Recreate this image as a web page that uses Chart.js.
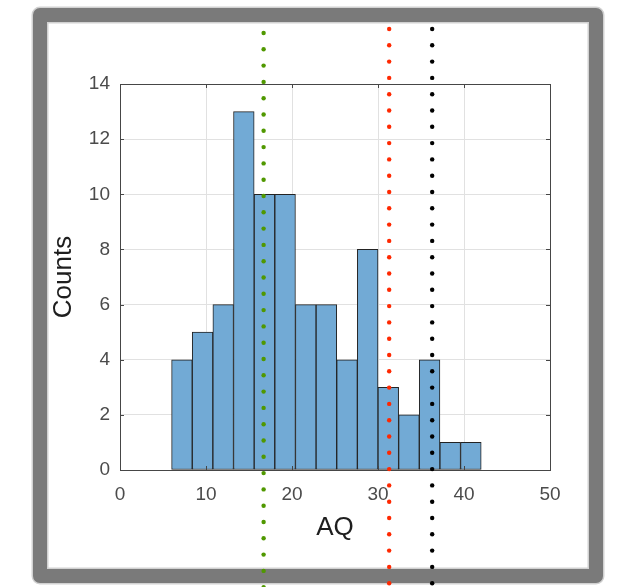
<!DOCTYPE html>
<html>
<head>
<meta charset="utf-8">
<script src="https://cdn.jsdelivr.net/npm/chart.js@4"></script>
<style>
  html, body { margin: 0; padding: 0; background: #fff; }
  #wrap { width: 620px; height: 587px; }
</style>
</head>
<body>
<div id="wrap"><canvas id="aq-chart" width="620" height="587"></canvas></div>
<script>
// Histogram of AQ, bin width 2.4 starting at 6
const binCenters = [7.2, 9.6, 12.0, 14.4, 16.8, 19.2, 21.6, 24.0, 26.4, 28.8, 31.2, 33.6, 36.0, 38.4, 40.8];
const binCounts = [4, 5, 6, 13, 10, 10, 6, 6, 4, 8, 3, 2, 4, 1, 1];
const xTicks = [0, 10, 20, 30, 40, 50];
const yTicks = [0, 2, 4, 6, 8, 10, 12, 14];

// dotted vertical markers
const markerValues = [16.7, 31.3, 36.3];
const markerColors = ['rgb(80, 152, 0)', 'rgb(255, 40, 0)', 'rgb(0, 0, 0)'];
const markerStart = [33, 29, 29];

const FONT = "'Liberation Sans', Arial, Helvetica, sans-serif";
const ctx = document.getElementById('aq-chart').getContext('2d');

// grey frame round everything, soft edges
const framePlugin = {
  id: 'frame',
  beforeDraw(chart) {
    const c = chart.ctx;
    function framePath() {
      c.beginPath();
      c.moveTo(40, 15);
      c.lineTo(596, 15);
      c.lineTo(596, 576);
      c.lineTo(40, 576);
      c.closePath();
    }
    c.save();
    c.lineJoin = 'round';
    c.strokeStyle = 'rgba(122, 122, 122, 0.35)';
    c.lineWidth = 17;
    framePath();
    c.stroke();
    c.strokeStyle = 'rgb(122, 122, 122)';
    c.lineWidth = 14;
    framePath();
    c.stroke();
    c.restore();
  }
};

// axes box with inward ticks (MATLAB style)
const boxPlugin = {
  id: 'box',
  afterDatasetsDraw(chart) {
    const c = chart.ctx;
    const {left, right, top, bottom} = chart.chartArea;
    const {x, y} = chart.scales;
    c.save();
    c.strokeStyle = 'rgb(70, 70, 70)';
    c.lineWidth = 1;
    c.strokeRect(Math.round(left) + 0.5, Math.round(top) + 0.5, Math.round(right - left), Math.round(bottom - top));
    c.beginPath();
    xTicks.forEach(v => {
      const px = Math.round(x.getPixelForValue(v)) + 0.5;
      c.moveTo(px, bottom); c.lineTo(px, bottom - 4);
      c.moveTo(px, top); c.lineTo(px, top + 4);
    });
    yTicks.forEach(v => {
      const py = Math.round(y.getPixelForValue(v)) + 0.5;
      c.moveTo(left, py); c.lineTo(left + 4, py);
      c.moveTo(right, py); c.lineTo(right - 4, py);
    });
    c.stroke();
    c.restore();
  }
};

const markerPlugin = {
  id: 'markers',
  afterDraw(chart) {
    const c = chart.ctx;
    const {x} = chart.scales;
    c.save();
    markerValues.forEach((v, i) => {
      const px = x.getPixelForValue(v);
      c.fillStyle = markerColors[i];
      for (let py = markerStart[i]; py < chart.height + 5; py += 16.3) {
        c.beginPath();
        c.arc(px, py, 2.2, 0, 2 * Math.PI);
        c.fill();
      }
    });
    c.restore();
  }
};

new Chart(ctx, {
  type: 'bar',
  data: {
    datasets: [{
      label: 'AQ',
      data: binCenters.map((v, i) => ({x: v, y: binCounts[i]})),
      backgroundColor: 'rgb(114, 170, 213)',
      borderColor: 'rgb(35, 35, 35)',
      borderWidth: 1,
      borderSkipped: false,
      barPercentage: 1,
      categoryPercentage: 1
    }]
  },
  options: {
    responsive: false,
    animation: false,
    devicePixelRatio: 1,
    layout: { padding: { top: 84, right: 70, left: 0, bottom: 0 } },
    plugins: { legend: { display: false }, tooltip: { enabled: false } },
    scales: {
      x: {
        type: 'linear',
        offset: false,
        min: 0,
        max: 50,
        afterBuildTicks(scale) { scale.ticks = xTicks.map(v => ({value: v})); },
        afterFit(scale) { scale.height = 117; },
        grid: { color: 'rgb(225, 225, 225)', drawTicks: false, offset: false },
        border: { display: false },
        ticks: { padding: 13, color: 'rgb(75, 75, 75)', font: { family: FONT, size: 19 } },
        title: {
          display: true,
          text: 'AQ',
          color: 'rgb(30, 30, 30)',
          font: { family: FONT, size: 26 },
          padding: { top: 0, bottom: 44 }
        }
      },
      y: {
        min: 0,
        max: 14,
        afterBuildTicks(scale) { scale.ticks = yTicks.map(v => ({value: v})); },
        afterFit(scale) { scale.width = 120; },
        grid: { color: 'rgb(225, 225, 225)', drawTicks: false },
        border: { display: false },
        ticks: { padding: 10, color: 'rgb(75, 75, 75)', font: { family: FONT, size: 19 } },
        title: {
          display: true,
          text: 'Counts',
          color: 'rgb(30, 30, 30)',
          font: { family: FONT, size: 26 },
          padding: { top: 48, bottom: 0 }
        }
      }
    }
  },
  plugins: [framePlugin, boxPlugin, markerPlugin]
});
</script>
</body>
</html>
